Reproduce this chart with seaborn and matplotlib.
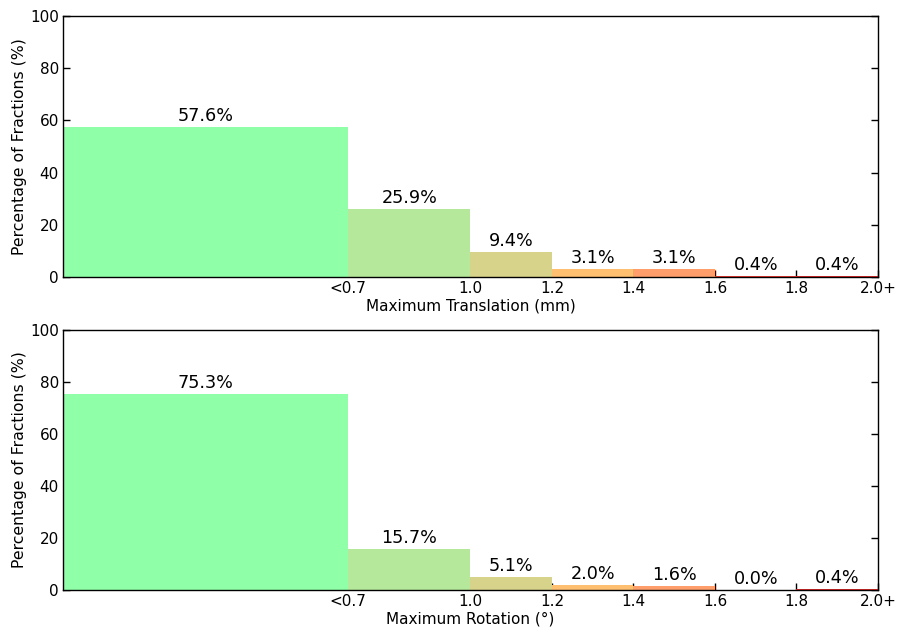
import numpy as np
import pandas as pd
import matplotlib
matplotlib.use("Agg")
import matplotlib.pyplot as plt
import seaborn as sns

bin_edges = [0.0, 0.7, 1.0, 1.2, 1.4, 1.6, 1.8, 2.0]
tick_positions = [0.7, 1.0, 1.2, 1.4, 1.6, 1.8, 2.0]
tick_labels = ["<0.7", "1.0", "1.2", "1.4", "1.6", "1.8", "2.0+"]
translation_pct = [57.6, 25.9, 9.4, 3.1, 3.1, 0.4, 0.4]
rotation_pct = [75.3, 15.7, 5.1, 2.0, 1.6, 0.0, 0.4]
bar_colors = ["#8fffa8", "#b5e89a", "#d8d38a", "#ffbf70", "#ff9e6a", "#f03c32", "#e02a2a"]
xlabels = ["Maximum Translation (mm)", "Maximum Rotation (°)"]

sns.set_style("white")
plt.rcParams["font.family"] = ["DejaVu Sans"]
plt.rcParams["text.color"] = "black"
plt.rcParams["axes.labelcolor"] = "black"
plt.rcParams["xtick.color"] = "black"
plt.rcParams["ytick.color"] = "black"

fig = plt.figure(figsize=(8.99, 6.29), dpi=100)
ax1 = fig.add_axes([0.0701, 0.5596, 0.9065, 0.4150])
ax2 = fig.add_axes([0.0701, 0.0620, 0.9065, 0.4134])

for ax, vals, xl in zip([ax1, ax2], [translation_pct, rotation_pct], xlabels):
    centers = [(bin_edges[i] + bin_edges[i + 1]) / 2 for i in range(len(vals))]
    df = pd.DataFrame({"x": centers, "w": vals})
    sns.histplot(data=df, x="x", weights="w", bins=bin_edges, stat="count",
                 ax=ax, element="bars", linewidth=0, alpha=1, legend=False)
    for p, c in zip(ax.patches, bar_colors):
        p.set_facecolor(c)
        p.set_edgecolor(c)
        p.set_linewidth(0)
    for cx, v in zip(centers, vals):
        ax.annotate(f"{v:.1f}%", (cx, v), xytext=(0, 1.5), textcoords="offset points",
                    ha="center", va="bottom", fontsize=12.7, color="black")
    ax.set_xlim(0, 2.0)
    ax.set_ylim(0, 100)
    ax.set_xticks(tick_positions)
    ax.set_xticklabels(tick_labels)
    ax.set_yticks([0, 20, 40, 60, 80, 100])
    ax.tick_params(axis="x", direction="in", length=5, width=1, labelsize=11, pad=3, bottom=True)
    ax.tick_params(axis="y", direction="in", length=5, width=1, labelsize=11, pad=3,
                   left=True, right=True)
    ax.set_xlabel(xl, fontsize=11, labelpad=1.5)
    ax.set_ylabel("Percentage of Fractions (%)", fontsize=11.3, labelpad=2.5)
    for s in ax.spines.values():
        s.set_color("black")
        s.set_linewidth(1)
        s.set_visible(True)

fig.savefig("out.png", dpi=100)
